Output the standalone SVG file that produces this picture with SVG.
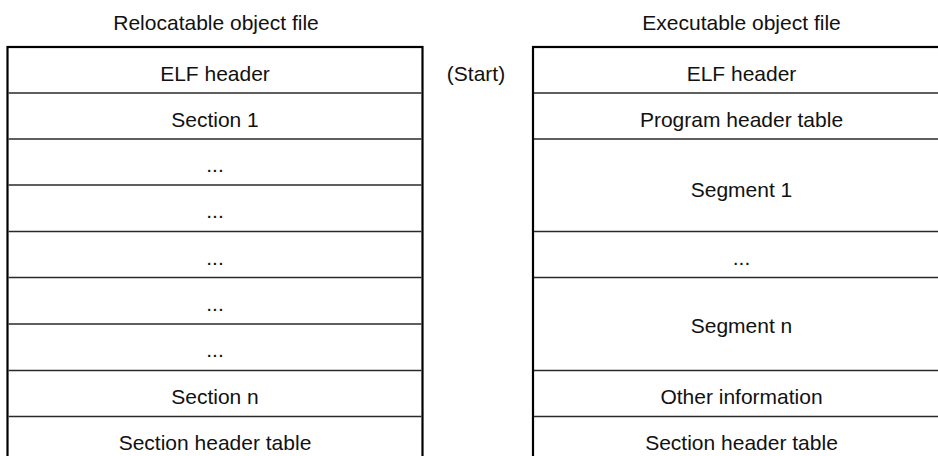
<svg xmlns="http://www.w3.org/2000/svg" width="938" height="456" viewBox="0 0 938 456">
<style>
text{font-family:"Liberation Sans",Arial,Helvetica,sans-serif;font-size:21px;fill:#111;text-anchor:middle}
.frame{fill:#fff;stroke:#000;stroke-width:2.2}
.sep{stroke:#2a2a2a;stroke-width:1.3}
</style>
<rect width="938" height="456" fill="#fff"/>
<g id="title-relocatable"><text x="216" y="30">Relocatable object file</text></g>
<g id="title-executable"><text x="741.5" y="30">Executable object file</text></g>
<g id="start-label"><text x="476" y="80.5">(Start)</text></g>

<g id="relocatable-file">
  <rect class="frame" x="7.5" y="47" width="415" height="430"/>
  <g id="r-elf-header"><text x="215" y="81">ELF header</text></g>
  <line class="sep" x1="8.5" y1="93" x2="421.5" y2="93"/>
  <g id="r-section-1"><text x="215" y="127">Section 1</text></g>
  <line class="sep" x1="8.5" y1="139" x2="421.5" y2="139"/>
  <g id="r-dots-1"><text x="215" y="172">...</text></g>
  <line class="sep" x1="8.5" y1="185" x2="421.5" y2="185"/>
  <g id="r-dots-2"><text x="215" y="218">...</text></g>
  <line class="sep" x1="8.5" y1="231.5" x2="421.5" y2="231.5"/>
  <g id="r-dots-3"><text x="215" y="264.5">...</text></g>
  <line class="sep" x1="8.5" y1="277.5" x2="421.5" y2="277.5"/>
  <g id="r-dots-4"><text x="215" y="310.5">...</text></g>
  <line class="sep" x1="8.5" y1="324" x2="421.5" y2="324"/>
  <g id="r-dots-5"><text x="215" y="357">...</text></g>
  <line class="sep" x1="8.5" y1="370.5" x2="421.5" y2="370.5"/>
  <g id="r-section-n"><text x="215" y="404">Section n</text></g>
  <line class="sep" x1="8.5" y1="416.5" x2="421.5" y2="416.5"/>
  <g id="r-section-header-table"><text x="215" y="450">Section header table</text></g>
</g>

<g id="executable-file">
  <rect class="frame" x="533" y="47" width="417" height="430"/>
  <g id="e-elf-header"><text x="741.5" y="81">ELF header</text></g>
  <line class="sep" x1="534" y1="93" x2="949" y2="93"/>
  <g id="e-program-header-table"><text x="741.5" y="127">Program header table</text></g>
  <line class="sep" x1="534" y1="139" x2="949" y2="139"/>
  <g id="e-segment-1"><text x="741.5" y="197">Segment 1</text></g>
  <line class="sep" x1="534" y1="231.5" x2="949" y2="231.5"/>
  <g id="e-dots"><text x="741.5" y="264.5">...</text></g>
  <line class="sep" x1="534" y1="277.5" x2="949" y2="277.5"/>
  <g id="e-segment-n"><text x="741.5" y="333">Segment n</text></g>
  <line class="sep" x1="534" y1="370.5" x2="949" y2="370.5"/>
  <g id="e-other-information"><text x="741.5" y="404">Other information</text></g>
  <line class="sep" x1="534" y1="416.5" x2="949" y2="416.5"/>
  <g id="e-section-header-table"><text x="741.5" y="450">Section header table</text></g>
</g>
</svg>
